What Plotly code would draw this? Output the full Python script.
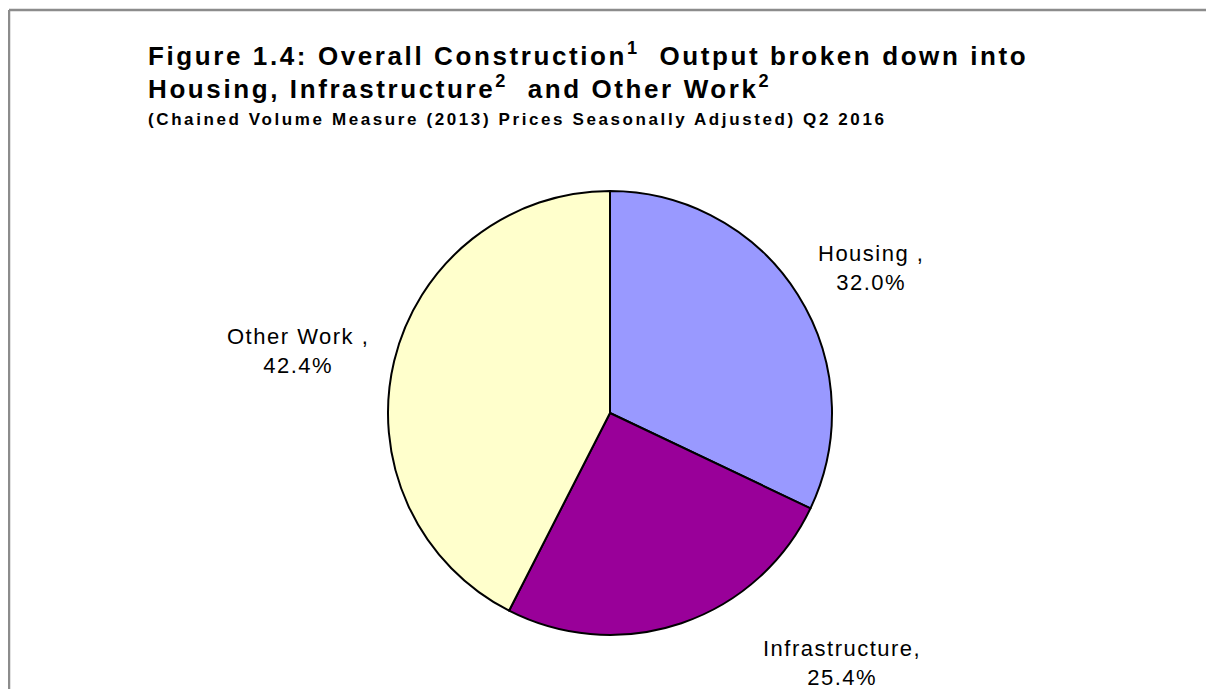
import plotly.graph_objects as go

OFF = 8  # body margin of the html page
W, H = 1214 - 2 * OFF, 697 - 2 * OFF  # keep the figure inside the view, no scrollbars

categories = ["Housing", "Infrastructure", "Other Work"]
shares = [32.0, 25.4, 42.4]
label_texts = ["Housing ,", "Infrastructure,", "Other Work ,"]
colors = ["#9999FF", "#990099", "#FFFFCC"]

FONT = "Liberation Sans, Arial, sans-serif"


def px(x, y):
    # page pixel -> paper coords
    return (x - OFF) / W, 1 - (y - OFF) / H


def spaced(txt, ls):
    return f'<span style="letter-spacing:{ls}px">{txt}</span>'


fig = go.Figure()
cx, cy, r = 610, 413, 222
fig.add_trace(go.Pie(
    labels=categories, values=shares, sort=False, direction="clockwise",
    marker=dict(colors=colors, line=dict(color="black", width=2)),
    textinfo="none", hoverinfo="label+percent", showlegend=False,
    domain=dict(x=[px(cx - r, 0)[0], px(cx + r, 0)[0]],
                y=[px(0, cy + r)[1], px(0, cy - r)[1]]),
))

# label positions (centre of the two-line block), page pixels
label_pos = {"Housing": (871, 268), "Infrastructure": (842, 663), "Other Work": (298, 351)}
for cat, txt, val in zip(categories, label_texts, shares):
    x, y = px(*label_pos[cat])
    fig.add_annotation(
        text=spaced(txt, 1.5) + "<br>" + spaced(f"{val:.1f}%", 1.5),
        x=x, y=y, xref="paper", yref="paper",
        showarrow=False, xanchor="center", yanchor="middle", align="center",
        font=dict(family=FONT, size=22, color="black"),
    )

title_lines = [
    ("Figure 1.4: Overall Construction<sup>1</sup>  Output broken down into", 26, 2.6, 55),
    ("Housing, Infrastructure<sup>2</sup>  and Other Work<sup>2</sup>", 26, 2.6, 87),
    ("(Chained Volume Measure (2013) Prices Seasonally Adjusted) Q2 2016", 17, 2.6, 120),
]
for txt, size, ls, y in title_lines:
    xx, yy = px(146, y)
    fig.add_annotation(
        text=f"<b>{spaced(txt, ls)}</b>", x=xx, y=yy, xref="paper", yref="paper",
        showarrow=False, xanchor="left", yanchor="middle",
        font=dict(family=FONT, size=size, color="black"),
    )

# chart frame: only the top and left edges are in view
fx, fy = px(9, 10)
frame = dict(color="#8c8c8c", width=2.5)
fig.add_shape(type="line", xref="paper", yref="paper", x0=fx, y0=fy, x1=1.01, y1=fy, line=frame)
fig.add_shape(type="line", xref="paper", yref="paper", x0=fx, y0=fy, x1=fx, y1=-0.01, line=frame)

fig.update_layout(
    width=W, height=H, margin=dict(l=0, r=0, t=0, b=0),
    paper_bgcolor="white", plot_bgcolor="white",
)
fig.write_html("out.html")
